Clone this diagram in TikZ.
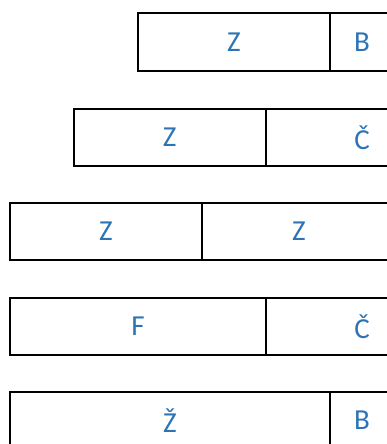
\documentclass[tikz,border=0pt]{standalone}
\usepackage{fontspec}
\setmainfont{Carlito}
\definecolor{txtblue}{HTML}{2E74B5}
\begin{document}
\begin{tikzpicture}[x=1pt,y=-1pt,
  cell/.style={draw=black,line width=2pt,minimum height=57pt,inner sep=0pt,
    text=txtblue,font=\fontsize{29}{30}\selectfont,anchor=north west,text depth=0pt}]
\useasboundingbox (0,0) rectangle (387,444);
\clip (0,0) rectangle (387,444);
% row 1
\node[cell,minimum width=192pt] (r1a) at (137,12.5) {Z};
\node[cell,minimum width=64pt] (r1b) at (329,12.5) {B};
% row 2
\node[cell,minimum width=192pt] (r2a) at (72.7,108) {Z};
\node[cell,minimum width=192.6pt] (r2b) at (264.7,108) {Č};
% row 3
\node[cell,minimum width=192pt] (r3a) at (9,202) {Z};
\node[cell,minimum width=194pt] (r3b) at (201,202) {Z};
% row 4
\node[cell,minimum width=256pt] (r4a) at (9,297) {F};
\node[cell,minimum width=192pt] (r4b) at (265,297) {Č};
% row 5
\node[cell,minimum width=320pt] (r5a) at (9,390.7) {Ž};
\node[cell,minimum width=64pt] (r5b) at (329,390.7) {B};
\end{tikzpicture}
\end{document}
